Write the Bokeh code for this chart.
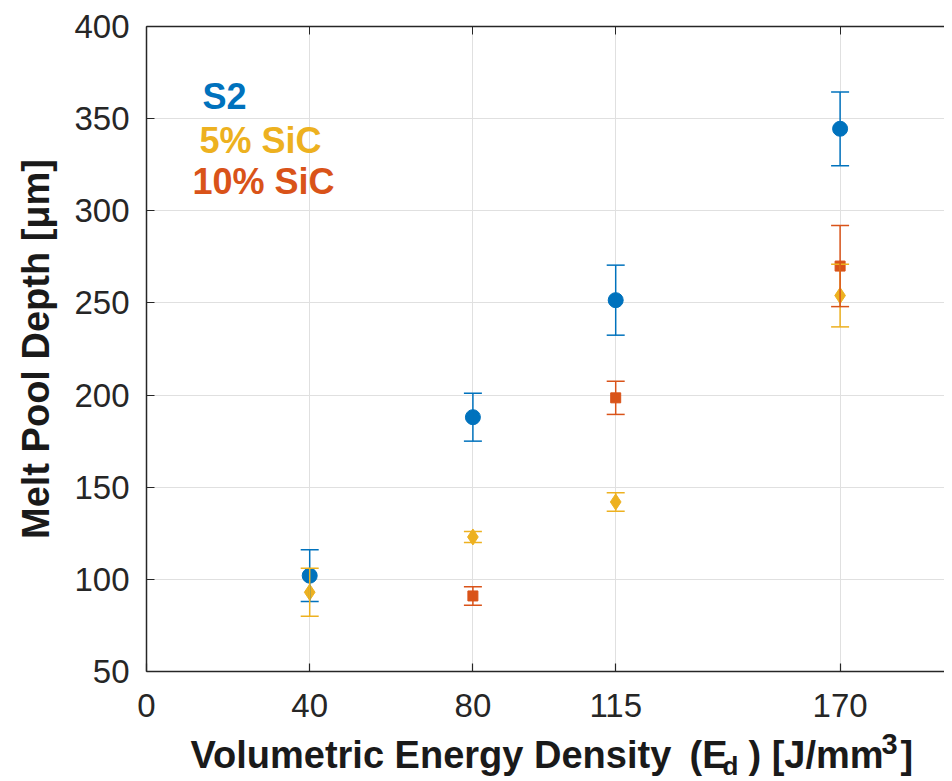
from bokeh.plotting import figure
from bokeh.layouts import column
from bokeh.models import (Range1d, FixedTicker, LinearAxis, Whisker, TeeHead,
                          ColumnDataSource, Label, CustomJSTickFormatter)
from bokeh.embed import file_html
from bokeh.resources import INLINE

# ---------------- data ----------------
x_ticks = [0, 40, 80, 115, 170]
y_ticks = [50, 100, 150, 200, 250, 300, 350, 400]

s2_x = [40, 80, 115, 170]
s2_y = [102, 188, 251.5, 344.5]
s2_err = [14, 13, 19, 20]

sic5_x = [40, 80, 115, 170]
sic5_y = [93, 123, 142, 254]
sic5_err = [13, 3, 5, 17]

sic10_x = [80, 115, 170]
sic10_y = [91, 198.5, 270]
sic10_err = [5, 9, 22]

series_names = ["S2", "5% SiC", "10% SiC"]
colors = ["#0072BD", "#EDB120", "#D95319"]

# ---------------- layout helpers ----------------
TOTAL_W = 944
FRAME_L, FRAME_T, FRAME_W, FRAME_H = 146, 26, 798, 645
MAIN_H = 728
LABEL_H = 53
X_PER_UNIT = 4.08
X_END = FRAME_W / X_PER_UNIT
Y0, Y1 = 50, 400
Y_PER_UNIT = FRAME_H / (Y1 - Y0)
BASE_SHIFT = 0.34   # measured baseline offset of Label text, in em

def xd(px):
    return (px - FRAME_L) / X_PER_UNIT

def yd(py):
    return Y1 - (py - FRAME_T) / Y_PER_UNIT

FONT = "Liberation Sans"
TXT = "#262626"

p = figure(frame_width=FRAME_W, frame_height=FRAME_H,
           min_border_left=FRAME_L, min_border_right=TOTAL_W - FRAME_L - FRAME_W,
           min_border_top=FRAME_T, min_border_bottom=MAIN_H - FRAME_T - FRAME_H,
           x_range=Range1d(0, X_END), y_range=Range1d(Y0, Y1),
           output_backend="svg", toolbar_location=None, tools="")
p.background_fill_color = "white"
p.border_fill_color = "white"
p.outline_line_color = None

# axes
for ax in (p.xaxis[0], p.yaxis[0]):
    ax.axis_line_color = TXT
    ax.axis_line_width = 1.5
    ax.major_tick_line_color = TXT
    ax.major_tick_line_width = 1.2
    ax.major_tick_in = 8
    ax.major_tick_out = 0
    ax.minor_tick_line_color = None
    ax.major_label_text_font = FONT
    ax.major_label_text_font_size = "33px"
    ax.major_label_text_color = TXT

p.xaxis[0].ticker = FixedTicker(ticks=x_ticks)
p.xaxis[0].major_label_standoff = 22
p.yaxis[0].ticker = FixedTicker(ticks=y_ticks)
p.yaxis[0].major_label_standoff = 17

p.yaxis[0].axis_label = "Melt Pool Depth [μm]"
p.yaxis[0].axis_label_text_font = FONT
p.yaxis[0].axis_label_text_font_size = "38px"
p.yaxis[0].axis_label_text_font_style = "bold"
p.yaxis[0].axis_label_text_color = "#1a1a1a"
p.yaxis[0].axis_label_standoff = 14

top = LinearAxis(ticker=FixedTicker(ticks=x_ticks),
                 formatter=CustomJSTickFormatter(code="return ''"))
top.axis_line_color = TXT
top.axis_line_width = 1.5
top.major_tick_line_color = TXT
top.major_tick_in = 8
top.major_tick_out = 0
top.minor_tick_line_color = None
top.major_label_standoff = 0
top.major_label_text_font_size = "10px"
p.add_layout(top, "above")

p.xgrid.ticker = FixedTicker(ticks=x_ticks)
p.ygrid.ticker = FixedTicker(ticks=y_ticks)
p.grid.grid_line_color = "#e0e0e0"
p.grid.grid_line_width = 1

# ---------------- series ----------------
series = [
    (s2_x, s2_y, s2_err, "circle", 15),
    (sic5_x, sic5_y, sic5_err, "diamond", 16),
    (sic10_x, sic10_y, sic10_err, "square", 10),
]
for (xs, ys, es, marker, size), col in zip(series, colors):
    src = ColumnDataSource(dict(x=xs, y=ys,
                                upper=[y + e for y, e in zip(ys, es)],
                                lower=[y - e for y, e in zip(ys, es)]))
    w = Whisker(source=src, base="x", upper="upper", lower="lower",
                dimension="height", line_color=col, line_width=1.5,
                upper_head=TeeHead(size=18, line_color=col, line_width=1.5),
                lower_head=TeeHead(size=18, line_color=col, line_width=1.5),
                level="glyph")
    p.add_layout(w)
    p.scatter("x", "y", source=src, marker=marker, size=size,
              fill_color=col, line_color=col)

# ---------------- in-plot text ----------------
ann = [("S2", 202, 108), ("5% SiC", 199, 152), ("10% SiC", 192, 193)]
for (txt, px, py), col in zip(ann, colors):
    p.add_layout(Label(x=xd(px), y=yd(py - BASE_SHIFT * 36), text=txt,
                       text_font=FONT, text_font_size="36px",
                       text_font_style="bold", text_color=col,
                       text_align="left", text_baseline="alphabetic"))

# ---------------- x axis label strip (with sub/superscript) ----------------
# strip frame is aligned with the main frame; its data units are page pixels
q = figure(title=None, frame_width=FRAME_W, frame_height=LABEL_H,
           min_border_left=FRAME_L, min_border_right=TOTAL_W - FRAME_L - FRAME_W,
           min_border_top=0, min_border_bottom=0,
           x_range=Range1d(FRAME_L, FRAME_L + FRAME_W),
           y_range=Range1d(MAIN_H + LABEL_H, MAIN_H),
           x_axis_location=None, y_axis_location=None,
           output_backend="svg", toolbar_location=None, tools="")
q.grid.visible = False
q.outline_line_color = None
q.background_fill_color = "white"
q.border_fill_color = "white"

base = 767
pieces = [
    ("Volumetric Energy Density", 190, base, 38),
    ("(E", 689, base, 38),
    ("d", 722, base + 7, 26),
    (") [J/mm", 748, base, 38),
    ("3", 881, base - 14, 29),
    ("]", 900, base, 38),
]
for txt, px, py, fs in pieces:
    q.add_layout(Label(x=px, y=py - BASE_SHIFT * fs, text=txt, text_font=FONT,
                       text_font_size=f"{fs}px", text_font_style="bold",
                       text_color="#1a1a1a", text_align="left",
                       text_baseline="alphabetic"))

layout = column(p, q, spacing=0)
open("out.html", "w").write(file_html(layout, INLINE))
